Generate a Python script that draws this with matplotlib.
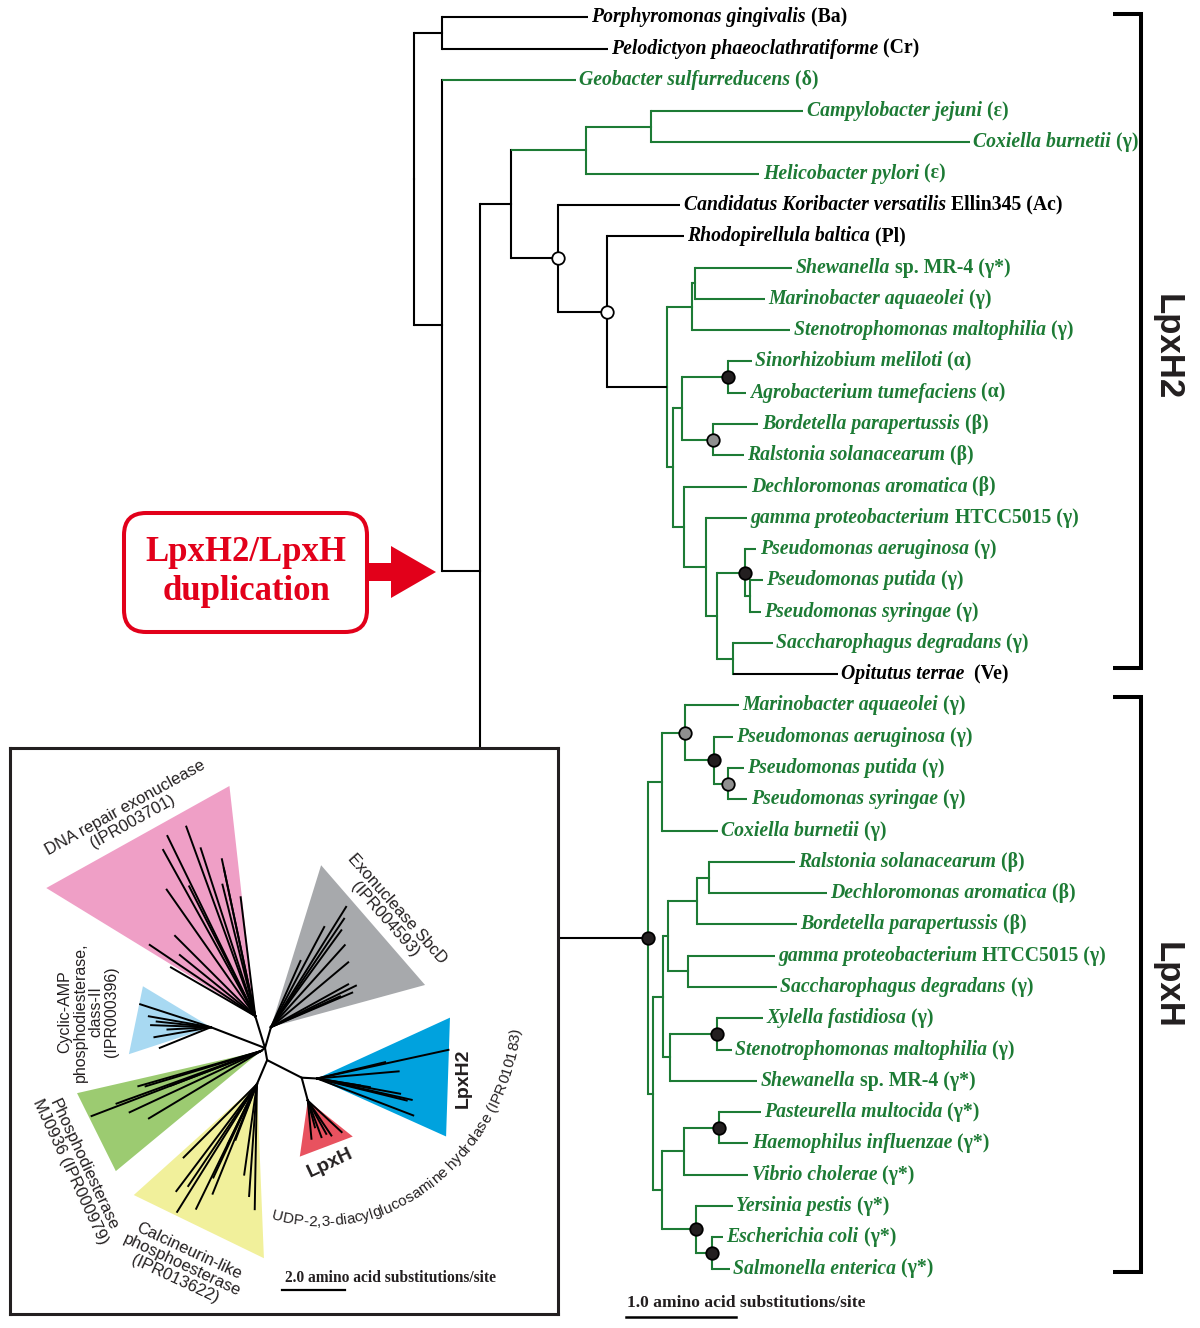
import numpy as np
import matplotlib.pyplot as plt
from matplotlib.patches import FancyBboxPatch, FancyArrow, Polygon
from matplotlib.transforms import Affine2D, blended_transform_factory
from matplotlib.textpath import TextToPath
from matplotlib.font_manager import FontProperties

GREEN = '#1d7b35'
RED = '#e2001a'
INK = '#231f20'
SERIF = 'Liberation Serif'
SANS = 'Liberation Sans'

# ---------------------------------------------------------------- main tree
# leaves top to bottom (italic part, plain part)
TAXON = [
    'Porphyromonas gingivalis', 'Pelodictyon phaeoclathratiforme', 'Geobacter sulfurreducens',
    'Campylobacter jejuni', 'Coxiella burnetii', 'Helicobacter pylori',
    'Candidatus Koribacter versatilis', 'Rhodopirellula baltica', 'Shewanella',
    'Marinobacter aquaeolei', 'Stenotrophomonas maltophilia', 'Sinorhizobium meliloti',
    'Agrobacterium tumefaciens', 'Bordetella parapertussis', 'Ralstonia solanacearum',
    'Dechloromonas aromatica', 'gamma proteobacterium', 'Pseudomonas aeruginosa',
    'Pseudomonas putida', 'Pseudomonas syringae', 'Saccharophagus degradans', 'Opitutus terrae',
    # LpxH copies
    'Marinobacter aquaeolei', 'Pseudomonas aeruginosa', 'Pseudomonas putida',
    'Pseudomonas syringae', 'Coxiella burnetii', 'Ralstonia solanacearum',
    'Dechloromonas aromatica', 'Bordetella parapertussis', 'gamma proteobacterium',
    'Saccharophagus degradans', 'Xylella fastidiosa', 'Stenotrophomonas maltophilia',
    'Shewanella', 'Pasteurella multocida', 'Haemophilus influenzae', 'Vibrio cholerae',
    'Yersinia pestis', 'Escherichia coli', 'Salmonella enterica',
]
GROUP = [' (Ba)', ' (Cr)', ' (δ)', ' (ε)', ' (γ)', ' (ε)', ' Ellin345 (Ac)', ' (Pl)',
         ' sp. MR-4 (γ*)', ' (γ)', ' (γ)', ' (α)', ' (α)', ' (β)', ' (β)', ' (β)',
         ' HTCC5015 (γ)', ' (γ)', ' (γ)', ' (γ)', ' (γ)', '  (Ve)',
         ' (γ)', ' (γ)', ' (γ)', ' (γ)', ' (γ)', ' (β)', ' (β)', ' (β)', ' HTCC5015 (γ)',
         ' (γ)', ' (γ)', ' (γ)', ' sp. MR-4 (γ*)', ' (γ*)', ' (γ*)', ' (γ*)', ' (γ*)',
         ' (γ*)', ' (γ*)']
NON_PROTEO = [0, 1, 6, 7, 21]   # drawn black

# tip depth from the root, amino acid substitutions/site
TIP_DEPTH = [1.58, 1.76, 1.47, 3.54, 5.05, 3.14, 2.42, 2.45, 3.44, 3.19, 3.42,
             3.07, 3.02, 3.13, 3.00, 3.03, 3.03, 3.11, 3.17, 3.15, 3.26, 3.85,
             2.95, 2.90, 3.00, 3.03, 2.76, 3.46, 3.75, 3.48, 3.28, 3.30, 3.17,
             2.89, 3.12, 3.15, 3.04, 3.04, 2.90, 2.81, 2.87]


def N(depth, kids, col='g', stem=None, mark=None):
    return dict(d=depth, kids=kids, col=col, stem=stem or col, mark=mark)


LPXH = N(2.13, [
    N(2.25, [N(2.46, [22, N(2.73, [23, N(2.85, [24, 25], mark='grey')], mark='black')],
               mark='grey'), 26]),
    N(2.17, [
        N(2.26, [
            N(2.31, [N(2.57, [N(2.68, [27, 28]), 29]), N(2.49, [30, 31])]),
            N(2.33, [N(2.75, [32, 33], mark='black'), 34]),
        ]),
        N(2.25, [
            N(2.45, [N(2.77, [35, 36], mark='black'), 37]),
            N(2.56, [38, N(2.71, [39, 40], mark='black')], mark='black'),
        ]),
    ]),
], stem='k', mark='black')

LPXH2 = N(0.88, [
    N(1.56, [N(2.15, [3, 4]), 5]),
    N(1.31, [6, N(1.75, [7, N(2.30, [
        N(2.53, [N(2.55, [8, 9]), 10]),
        N(2.35, [
            N(2.44, [N(2.85, [11, 12], mark='black'), N(2.72, [13, 14], mark='grey')]),
            N(2.45, [15, N(2.65, [16, N(2.75, [
                N(3.01, [17, N(3.05, [18, 19])], mark='black'),
                N(2.90, [20, 21])])])]),
        ]),
    ], stem='k')], col='k', mark='open')], col='k', mark='open'),
], col='k')

TREE = N(0.0, [N(0.25, [0, 1], col='k'),
               N(0.25, [2, N(0.60, [LPXH2, LPXH], col='k')], col='k')], col='k')

# --------------------------------------------------------------- inset tree
CLADE_COLORS = ['#ef9fc6', '#a7a9ac', '#a8d9f2', '#9ccb71', '#f1f09b', '#e8525f', '#00a2de']
CLADE_APEX = ['pink', 'grey', 'camp', 'green', 'yellow', 'red', 'blue']
# unrooted backbone: node, parent, angle (deg), branch length (subs/site)
BACKBONE = [('pink', 'O', 107, 1.06), ('grey', 'O', 74, 0.69), ('camp', 'O', 159, 1.84),
            ('green', 'O', 217, 0.16), ('A', 'O', 280, 0.39), ('yellow', 'A', 247, 0.83),
            ('B', 'A', 333, 1.23), ('blue', 'B', 357, 0.49), ('red', 'B', 285, 0.75)]
# collapsed clade outline: angle/length of the two outer corners from the apex
CLADE_FAN = [(148.5, 7.78, 96.4, 7.35), (72.8, 5.38, 15.3, 5.07), (148.9, 2.52, 198.2, 2.74),
             (192.9, 5.99, 219.6, 5.98), (222, 5.26, 272.3, 5.53), (261.9, 1.80, 321.3, 1.83),
             (24.6, 4.64, 335.8, 4.49)]
CLADE_TIPS = [
    [(116, 6.36), (110, 6.40), (119, 6.03), (102, 5.09), (102, 4.79), (97, 3.80), (146, 4.04),
     (141, 3.08), (150, 3.09), (117, 4.62), (108, 5.6), (125, 4.9), (135, 3.6), (104, 4.3)],
    [(58, 4.5), (54, 3.8), (48, 3.5), (66, 2.3), (26, 3.0), (23, 2.8), (24, 2.4), (29, 2.8),
     (56, 4.15), (40, 3.2), (62, 3.6)],
    [(162, 2.36), (174, 1.73), (190, 1.82), (202, 1.75), (183, 1.38), (170, 2.0), (178, 1.9)],
    [(201, 5.76), (200, 4.88), (197, 3.83), (211, 4.15), (196, 4.05), (201, 3.07), (205, 4.6)],
    [(238, 4.78), (233, 4.25), (225, 3.29), (244, 4.40), (245, 3.27), (249, 1.89), (269, 3.97),
     (266, 3.56), (248, 3.75), (244, 2.11), (236, 3.9), (262, 2.9)],
    [(275.5, 1.22), (290.5, 1.24), (304, 1.34), (317, 1.47), (299, 1.21), (285, 0.88)],
    [(12.3, 4.27), (347.3, 3.08), (339, 3.27), (13.5, 2.22), (350.7, 1.70), (349.6, 2.68),
     (346.2, 2.93), (350.8, 1.38), (5, 2.6)],
]

# ------------------------------------------------------------------ figure
fig = plt.figure(figsize=(12, 13.28), dpi=100)
ax = fig.add_axes([0, 0, 1, 1])
ax.set_xlim(0, 1200)
ax.set_ylim(1328, 0)
ax.axis('off')

# tree units -> page: 1.0 subs/site = 110 px, one leaf row = 31.28 px
tree_tr = Affine2D().scale(110, 31.28).translate(414, 17.3) + ax.transData
LW = 1.5


def colour(c):
    return GREEN if c == 'g' else 'black'


def place(node):
    if isinstance(node, int):
        return float(node)
    ys = [place(k) for k in node['kids']]
    node['y'] = (ys[0] + ys[-1]) / 2
    return node['y']


def draw(node):
    x, y = node['d'], node['y']
    for k in node['kids']:
        if isinstance(k, int):
            kx, ky = TIP_DEPTH[k], k
            kc = 'black' if k in NON_PROTEO else GREEN
        else:
            draw(k)
            kx, ky, kc = k['d'], k['y'], colour(k['stem'])
        ax.plot([x, x], [y, ky], color=colour(node['col']), lw=LW, transform=tree_tr,
                solid_capstyle='projecting', zorder=2)
        ax.plot([x, kx], [ky, ky], color=kc, lw=LW, transform=tree_tr,
                solid_capstyle='butt', zorder=2)
    if node['mark']:
        fc = {'open': 'white', 'black': INK, 'grey': '#8f8f8f'}[node['mark']]
        ax.plot(x, y, 'o', ms=9, mfc=fc, mec='black', mew=1.3, transform=tree_tr, zorder=4)


place(TREE)
draw(TREE)

for i, name in enumerate(TAXON):
    c = 'black' if i in NON_PROTEO else GREEN
    t1 = ax.annotate(name, xy=(TIP_DEPTH[i], i), xycoords=tree_tr, xytext=(2.5, -3.6),
                     textcoords='offset points', va='baseline', ha='left', color=c,
                     family=SERIF, weight='bold', style='italic', fontsize=14.2)
    ax.annotate(GROUP[i], xy=(1, 0), xycoords=t1, va='bottom', ha='left', color=c,
                family=SERIF, weight='bold', fontsize=14.2)

# clade brackets
for lab, top, bot, ymid in [('LpxH2', 14, 668, 347), ('LpxH', 697, 1272, 985)]:
    ax.plot([1113, 1141, 1141, 1113], [top, top, bot, bot], color='black', lw=2.9,
            solid_joinstyle='miter', solid_capstyle='butt')
    ax.text(1167, ymid, lab, rotation=-90, ha='center', va='center', family=SANS,
            weight='bold', fontsize=25, color=INK)

# duplication call-out
ax.add_patch(FancyBboxPatch((124, 513), 243, 119, boxstyle='round,pad=0,rounding_size=22',
                            ec=RED, fc='white', lw=2.9, zorder=3))
ax.text(246, 561, 'LpxH2/LpxH', ha='center', va='baseline', family=SERIF, weight='bold',
        fontsize=25, color=RED, zorder=4)
ax.text(246, 600, 'duplication', ha='center', va='baseline', family=SERIF, weight='bold',
        fontsize=25, color=RED, zorder=4)
ax.add_patch(FancyArrow(367, 572, 69, 0, width=18, head_width=52, head_length=45,
                        length_includes_head=True, color=RED, lw=0, zorder=3))

# scale bar, main tree
sb_tr = blended_transform_factory(tree_tr, ax.transData)
ax.plot([1.93, 2.93], [1317, 1317], color='black', lw=1.8, transform=sb_tr)
ax.text(627, 1307, '1.0 amino acid substitutions/site', ha='left', va='baseline',
        family=SERIF, weight='bold', fontsize=12.6, color=INK)

# ------------------------------------------------------------------- inset
ins = fig.add_axes([10 / 1200, 1 - 1314 / 1328, 548 / 1200, (1314 - 748) / 1328], zorder=5)
ins.set_xlim(10, 558)
ins.set_ylim(1314, 748)
ins.set_xticks([])
ins.set_yticks([])
ins.set_facecolor('white')
for s in ins.spines.values():
    s.set_linewidth(2.2)
    s.set_color(INK)

# subs/site -> inset page: 2.0 subs/site = 63 px
cl_tr = Affine2D().scale(31.5, -31.5).translate(265, 1048) + ins.transData


def polar(a, r):
    return np.array([np.cos(np.radians(a)), np.sin(np.radians(a))]) * r


pos = {'O': np.zeros(2)}
for node, parent, ang, bl in BACKBONE:
    pos[node] = pos[parent] + polar(ang, bl)
    ins.plot(*zip(pos[parent], pos[node]), color='black', lw=1.5, transform=cl_tr, zorder=3,
             solid_capstyle='round')

for apex, col, fan, tips in zip(CLADE_APEX, CLADE_COLORS, CLADE_FAN, CLADE_TIPS):
    p = pos[apex]
    tri = [p, p + polar(fan[0], fan[1]), p + polar(fan[2], fan[3])]
    ins.add_patch(Polygon(tri, closed=True, fc=col, ec='none', transform=cl_tr, zorder=1))
    for a, r in tips:
        q = p + polar(a, r)
        ins.plot([p[0], q[0]], [p[1], q[1]], color='black', lw=1.4, transform=cl_tr, zorder=2)

INSET_LABELS = [
    ('DNA repair exonuclease\n(IPR003701)', 129, 815, 29, 'normal', 12),
    ('Exonuclease SbcD\n(IPR004593)', 391, 914, -48.5, 'normal', 12),
    ('Cyclic-AMP\nphosphodiesterase,\nclass-II\n(IPR000396)', 88, 1012, 90, 'normal', 11.5),
    ('Phosphodiesterase\nMJ0936 (IPR000979)', 77, 1168, -65, 'normal', 12),
    ('Calcineurin-like\nphosphoesterase\n(IPR013622)', 182, 1265, -25, 'normal', 12),
    ('LpxH2', 463, 1078, 90, 'bold', 14),
    ('LpxH', 330, 1163, 25, 'bold', 14),
]
for txt, x, y, rot, wt, fs in INSET_LABELS:
    ins.text(x, y, txt, rotation=rot, rotation_mode='anchor', ha='center', va='center',
             multialignment='center', family=SANS, weight=wt, fontsize=fs, color=INK,
             linespacing=1.05, zorder=4)

# family name bent round the LpxH / LpxH2 pair
arc_label = 'UDP-2,3-diacylglucosamine hydrolase (IPR010183)'
prop = FontProperties(family=SANS, size=11)
ttp = TextToPath()


def advance(s):
    w = ttp.get_text_width_height_descent(s + 'l', prop, ismath=False)[0]
    w0 = ttp.get_text_width_height_descent('l', prop, ismath=False)[0]
    return (w - w0) * fig.dpi / 72


ts = np.radians(np.linspace(-130, 30, 3000))
ex = 320 + 200 * np.cos(ts)
ey = 990 - 232 * np.sin(ts)
arc = np.concatenate([[0], np.cumsum(np.hypot(np.diff(ex), np.diff(ey)))])
s0 = np.interp(np.radians(-104), ts, arc)
for k, ch in enumerate(arc_label):
    mid = s0 + (advance(arc_label[:k]) + advance(arc_label[:k + 1])) / 2
    j = int(np.searchsorted(arc, mid))
    ang = np.degrees(np.arctan2(-(ey[j + 1] - ey[j - 1]), ex[j + 1] - ex[j - 1]))
    ins.text(np.interp(mid, arc, ex), np.interp(mid, arc, ey), ch, rotation=ang,
             rotation_mode='anchor', ha='center', va='center', family=SANS, fontsize=11,
             color=INK, zorder=4)

# inset scale bar
isb_tr = blended_transform_factory(cl_tr, ins.transData)
ins.plot([0.54, 2.54], [1290, 1290], color='black', lw=1.6, transform=isb_tr)
ins.text(285, 1282, '2.0 amino acid substitutions/site', ha='left', va='baseline',
         family=SERIF, weight='bold', fontsize=11.2, color=INK)

fig.savefig('out.png', dpi=100)
